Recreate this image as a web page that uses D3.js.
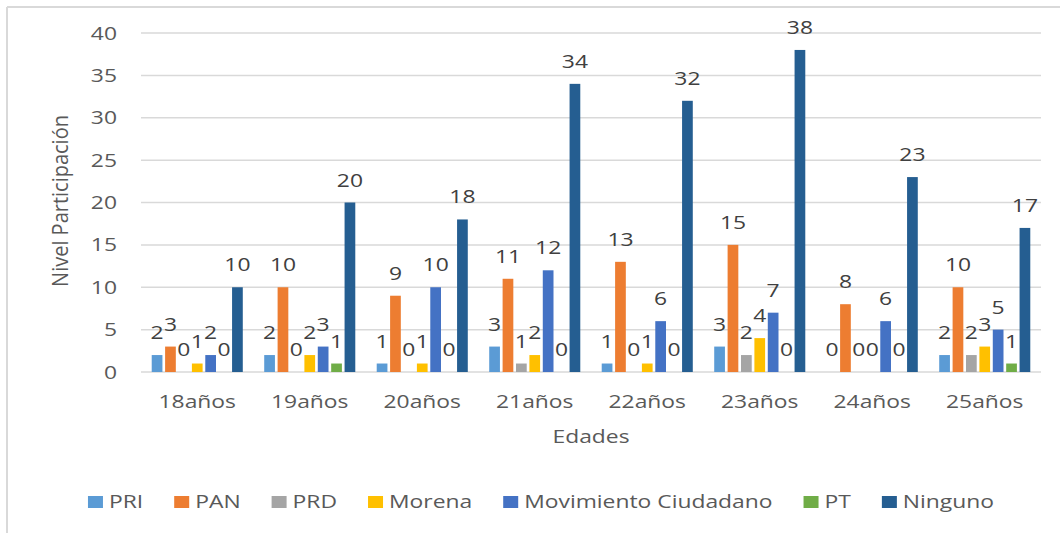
<!DOCTYPE html>
<html>
<head>
<meta charset="utf-8">
<script src="https://cdn.jsdelivr.net/npm/d3@7"></script>
<style>
body { margin: 0; background: #fff; }
svg { display: block; font-family: "Open Sans", sans-serif; }
</style>
</head>
<body>
<svg width="1060" height="533"></svg>
<script>
// chart data
var categories = ["18años", "19años", "20años", "21años", "22años", "23años", "24años", "25años"];
var seriesNames = ["PRI", "PAN", "PRD", "Morena", "Movimiento Ciudadano", "PT", "Ninguno"];
var seriesColors = ["#5b9bd5", "#ed7d31", "#a5a5a5", "#ffc000", "#4472c4", "#70ad47", "#255e91"];

var PRI = [2, 2, 1, 3, 1, 3, 0, 2];
var PAN = [3, 10, 9, 11, 13, 15, 8, 10];
var PRD = [0, 0, 0, 1, 0, 2, 0, 2];
var Morena = [1, 2, 1, 2, 1, 4, 0, 3];
var MovimientoCiudadano = [2, 3, 10, 12, 6, 7, 6, 5];
var PT = [0, 1, 0, 0, 0, 0, 0, 1];
var Ninguno = [10, 20, 18, 34, 32, 38, 23, 17];
var seriesValues = [PRI, PAN, PRD, Morena, MovimientoCiudadano, PT, Ninguno];

var yTicks = [0, 5, 10, 15, 20, 25, 30, 35, 40];

var svg = d3.select("svg");
var SX = 1.27; // the original picture is stretched sideways

var x0 = d3.scaleBand().domain(categories).range([141, 1041]);
var x1 = d3.scaleBand().domain(seriesNames)
    .range([0, x0.bandwidth()])
    .paddingInner(0.2)
    .paddingOuter(0.8);
var y = d3.scaleLinear().domain([0, 40]).range([372, 33]);

function stretchedText(parent, x, y, txt) {
    return parent.append("text")
        .attr("transform", "translate(" + x + "," + y + ") scale(" + SX + ",1)")
        .text(txt);
}

// frame (only top and left edges show in the picture)
svg.append("line").attr("x1", 7).attr("x2", 1060).attr("y1", 7).attr("y2", 7)
    .attr("stroke", "#d9d9d9").attr("stroke-width", 2);
svg.append("line").attr("x1", 7).attr("x2", 7).attr("y1", 7).attr("y2", 533)
    .attr("stroke", "#d9d9d9").attr("stroke-width", 2);

// gridlines
svg.append("g").selectAll("line")
    .data(yTicks)
    .enter().append("line")
    .attr("x1", 141).attr("x2", 1041)
    .attr("y1", function(d) { return y(d); })
    .attr("y2", function(d) { return y(d); })
    .attr("stroke", "#d9d9d9")
    .attr("stroke-width", 1.5);

// y tick labels
var yLab = svg.append("g")
    .attr("fill", "#595959")
    .attr("font-size", 18)
    .attr("text-anchor", "end");
yTicks.forEach(function(t) {
    stretchedText(yLab, 117, y(t) + 6.5, t);
});

// x tick labels
var xLab = svg.append("g")
    .attr("fill", "#595959")
    .attr("font-size", 18)
    .attr("text-anchor", "middle");
categories.forEach(function(c) {
    stretchedText(xLab, x0(c) + x0.bandwidth() / 2, 408, c);
});

// axis titles
stretchedText(svg, 591, 443, "Edades")
    .attr("fill", "#595959")
    .attr("font-size", 18)
    .attr("text-anchor", "middle");

svg.append("text")
    .attr("transform", "translate(68,201) scale(1.08,1) rotate(-90)")
    .attr("fill", "#595959")
    .attr("font-size", 20)
    .attr("text-anchor", "middle")
    .text("Nivel Participación");

// bars
var groups = svg.append("g").selectAll("g")
    .data(categories)
    .enter().append("g")
    .attr("transform", function(c) { return "translate(" + x0(c) + ",0)"; });

groups.selectAll("rect")
    .data(function(c, i) {
        return seriesNames.map(function(s, j) {
            return { series: s, value: seriesValues[j][i], color: seriesColors[j] };
        });
    })
    .enter().append("rect")
    .attr("x", function(d) { return x1(d.series); })
    .attr("width", x1.bandwidth())
    .attr("y", function(d) { return y(d.value); })
    .attr("height", function(d) { return y(0) - y(d.value); })
    .attr("fill", function(d) { return d.color; });

// data labels
groups.each(function(c, i) {
    var g = d3.select(this).append("g")
        .attr("fill", "#404040")
        .attr("font-size", 18)
        .attr("text-anchor", "middle");
    seriesNames.forEach(function(s, j) {
        var v = seriesValues[j][i];
        stretchedText(g, x1(s) + x1.bandwidth() / 2, y(v) - 16, v);
    });
});

// legend
var legend = svg.append("g")
    .attr("fill", "#595959")
    .attr("font-size", 18);
var cursor = 0;
seriesNames.forEach(function(s, j) {
    var item = legend.append("g");
    item.append("rect")
        .attr("x", 0).attr("y", -12)
        .attr("width", 15).attr("height", 12)
        .attr("fill", seriesColors[j]);
    var t = stretchedText(item, 21, 0, s);
    var w = 21 + t.node().getComputedTextLength() * SX;
    item.attr("transform", "translate(" + cursor + ",0)");
    cursor += w + 31;
});
var legendWidth = cursor - 31;
legend.attr("transform", "translate(" + (541 - legendWidth / 2) + ",508)");
</script>
</body>
</html>
